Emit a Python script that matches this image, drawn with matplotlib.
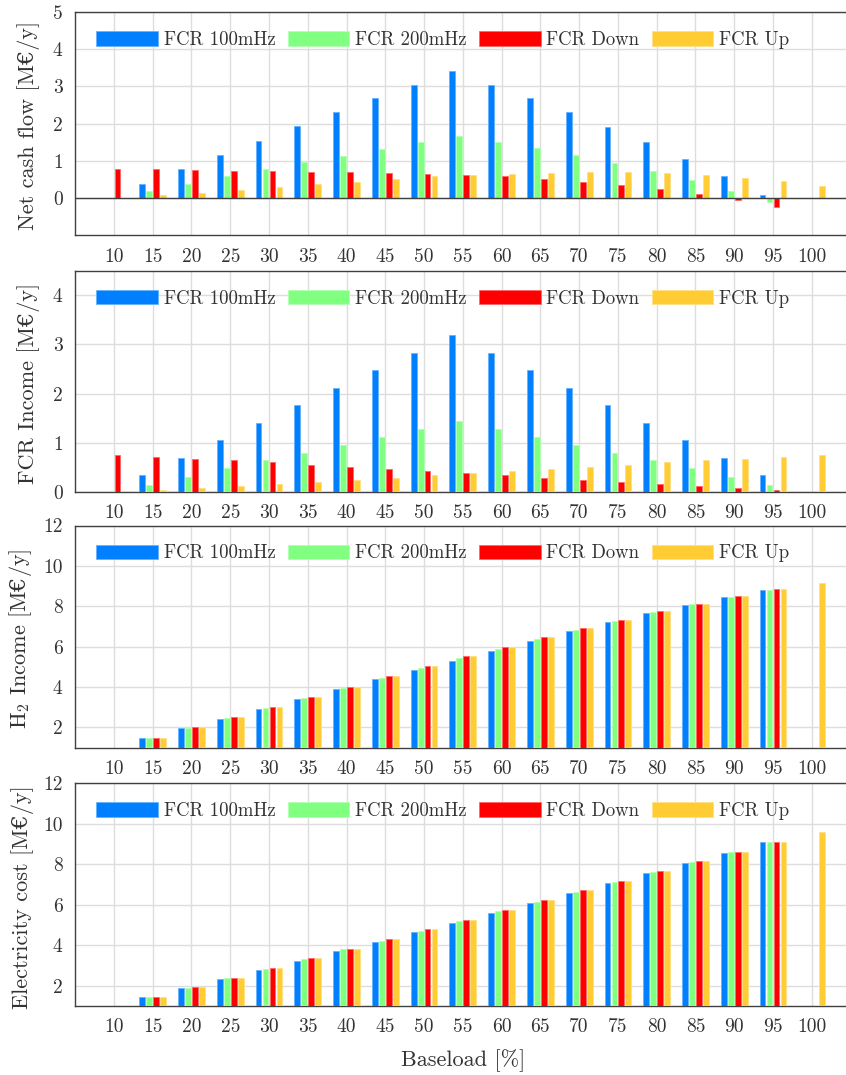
#!/usr/bin/env python3
# -*- coding: utf-8 -*-

import numpy as np
import matplotlib
matplotlib.use("Agg")
import matplotlib.pyplot as plt

plt.rcParams['font.family'] = ['cmr10', 'DejaVu Serif']
plt.rcParams['mathtext.fontset'] = 'custom'
plt.rcParams['mathtext.rm'] = 'cmr10'
plt.rcParams['mathtext.it'] = 'cmmi10'
plt.rcParams['mathtext.bf'] = 'cmb10'
plt.rcParams['mathtext.sf'] = 'DejaVu Serif'
plt.rcParams['axes.unicode_minus'] = False
plt.rcParams['font.size'] = 14

nan = np.nan
baseload = [10, 15, 20, 25, 30, 35, 40, 45, 50, 55, 60, 65, 70, 75, 80, 85, 90, 95, 100]
seriesNames = ["FCR 100mHz", "FCR 200mHz", "FCR Down", "FCR Up"]
seriesColors = ["#0080ff", "#80ff80", "#ff0000", "#ffcc33"]

# Net cash flow [M€/y]
cash100 = [nan, 0.39, 0.77, 1.15, 1.54, 1.93, 2.30, 2.68, 3.04, 3.41, 3.05, 2.68, 2.30, 1.91, 1.50, 1.05, 0.59, 0.09, nan]
cash200 = [nan, 0.20, 0.39, 0.58, 0.77, 0.96, 1.14, 1.33, 1.51, 1.68, 1.52, 1.34, 1.15, 0.95, 0.72, 0.48, 0.20, -0.11, nan]
cashDown = [0.79, 0.77, 0.76, 0.74, 0.73, 0.71, 0.70, 0.68, 0.66, 0.62, 0.58, 0.51, 0.44, 0.35, 0.24, 0.12, -0.05, -0.23, nan]
cashUp = [nan, 0.07, 0.14, 0.22, 0.30, 0.37, 0.44, 0.51, 0.58, 0.62, 0.66, 0.68, 0.70, 0.69, 0.68, 0.62, 0.55, 0.46, 0.33]

# FCR income [M€/y]
fcr100 = [nan, 0.35, 0.70, 1.05, 1.41, 1.76, 2.12, 2.47, 2.82, 3.18, 2.82, 2.47, 2.12, 1.76, 1.41, 1.05, 0.70, 0.35, nan]
fcr200 = [nan, 0.15, 0.31, 0.48, 0.64, 0.80, 0.96, 1.12, 1.28, 1.44, 1.28, 1.12, 0.96, 0.80, 0.64, 0.48, 0.31, 0.15, nan]
fcrDown = [0.76, 0.72, 0.68, 0.64, 0.60, 0.55, 0.51, 0.47, 0.42, 0.38, 0.34, 0.29, 0.25, 0.21, 0.17, 0.12, 0.08, 0.04, nan]
fcrUp = [nan, 0.04, 0.08, 0.12, 0.17, 0.21, 0.25, 0.29, 0.34, 0.38, 0.42, 0.47, 0.51, 0.55, 0.60, 0.64, 0.68, 0.72, 0.76]

# H2 income [M€/y]
h2100 = [nan, 1.47, 1.95, 2.43, 2.92, 3.40, 3.88, 4.37, 4.83, 5.30, 5.80, 6.28, 6.77, 7.22, 7.67, 8.08, 8.47, 8.82, nan]
h2200 = [nan, 1.47, 1.97, 2.47, 2.97, 3.47, 3.97, 4.45, 4.93, 5.42, 5.90, 6.37, 6.83, 7.28, 7.72, 8.12, 8.48, 8.82, nan]
h2Down = [nan, 1.48, 2.00, 2.50, 3.02, 3.52, 4.02, 4.52, 5.02, 5.52, 6.00, 6.47, 6.92, 7.33, 7.75, 8.13, 8.50, 8.85, nan]
h2Up = [nan, 1.48, 2.00, 2.50, 3.02, 3.52, 4.02, 4.52, 5.02, 5.52, 6.00, 6.47, 6.92, 7.33, 7.75, 8.13, 8.50, 8.83, 9.15]

# Electricity cost [M€/y]
elec100 = [nan, 1.42, 1.88, 2.33, 2.79, 3.24, 3.70, 4.17, 4.63, 5.07, 5.57, 6.07, 6.56, 7.06, 7.57, 8.07, 8.56, 9.07, nan]
elec200 = [nan, 1.42, 1.90, 2.38, 2.84, 3.31, 3.79, 4.23, 4.71, 5.17, 5.67, 6.15, 6.63, 7.12, 7.60, 8.10, 8.60, 9.07, nan]
elecDown = [nan, 1.44, 1.92, 2.40, 2.88, 3.36, 3.83, 4.31, 4.78, 5.26, 5.74, 6.21, 6.71, 7.19, 7.64, 8.13, 8.61, 9.09, nan]
elecUp = [nan, 1.44, 1.92, 2.40, 2.88, 3.36, 3.83, 4.31, 4.78, 5.26, 5.74, 6.21, 6.71, 7.19, 7.64, 8.13, 8.61, 9.09, 9.57]

panels = [
    ("Net cash flow [M€/y]", [cash100, cash200, cashDown, cashUp], (-1, 5), [0, 1, 2, 3, 4, 5]),
    ("FCR Income [M€/y]", [fcr100, fcr200, fcrDown, fcrUp], (0, 4.5), [0, 1, 2, 3, 4]),
    ("H$_2$ Income [M$\\mathsf{€}$/y]", [h2100, h2200, h2Down, h2Up], (1, 12), [2, 4, 6, 8, 10, 12]),
    ("Electricity cost [M€/y]", [elec100, elec200, elecDown, elecUp], (1, 12), [2, 4, 6, 8, 10, 12]),
]

# axes boxes in figure pixels (top, bottom); the right edge runs past the picture
boxes = [(12, 235.3), (270.5, 492), (525.5, 747.5), (783, 1006)]
# right edge of each rotated y label, in pixels
labelRight = [40, 40, 34, 34]
offsets = [-1.35, -0.45, 0.45, 1.35]
barWidth = 0.75
textColor = "#333333"
spineColor = "#404040"

W, H = 846, 1075
axLeft, axWidth = 75.2, 775.3
fig = plt.figure(figsize=(W / 100, H / 100), dpi=100)

for i, ((ylabel, series, ylim, yticks), (top, bottom)) in enumerate(zip(panels, boxes)):
    ax = fig.add_axes([axLeft / W, 1 - bottom / H, axWidth / W, (bottom - top) / H])
    x = np.array(baseload, dtype=float)
    for name, color, off, values in zip(seriesNames, seriesColors, offsets, series):
        values = np.array(values, dtype=float)
        ok = ~np.isnan(values)
        edge = tuple(0.6 * np.array(matplotlib.colors.to_rgb(color)) + 0.4)
        ax.bar(x[ok] + off, values[ok], width=barWidth, color=color, edgecolor=edge,
               linewidth=0.6, label=name, zorder=3)
    ax.set_xlim(5, 105)
    ax.set_ylim(*ylim)
    ax.set_xticks(baseload)
    ax.set_yticks(yticks)
    ax.grid(True, color="#dddddd", linewidth=1.0, zorder=0)
    ax.set_axisbelow(True)
    ax.tick_params(length=0, pad=9, colors=textColor, labelsize=14)
    for s in ax.spines.values():
        s.set_color(spineColor)
        s.set_linewidth(1.0)
    if ylim[0] < 0:
        ax.axhline(0, color=spineColor, linewidth=1.0, zorder=4)
    ax.set_ylabel(ylabel, color=textColor, fontsize=16)
    ax.yaxis.set_label_coords((labelRight[i] - axLeft) / axWidth, 0.49)
    ax.legend(loc="upper left", bbox_to_anchor=(0.027, 1 - 19 / (bottom - top)), ncol=4,
              frameon=False, borderpad=0, borderaxespad=0, handlelength=3.3,
              handleheight=0.85, handletextpad=0.3, columnspacing=0.65,
              labelcolor=textColor, fontsize=13.5)
    if i == len(panels) - 1:
        ax.set_xlabel("Baseload [%]", color=textColor, fontsize=16)
        ax.xaxis.set_label_coords(0.5, -(1049 - bottom) / (bottom - top))

fig.savefig("out.png", dpi=100)
